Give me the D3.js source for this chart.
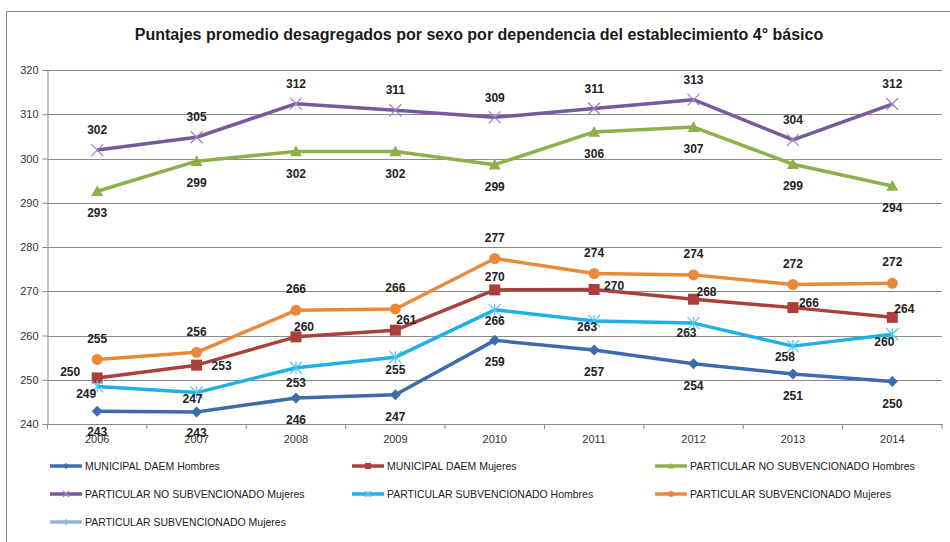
<!DOCTYPE html>
<html>
<head>
<meta charset="utf-8">
<script src="https://cdn.jsdelivr.net/npm/d3@7"></script>
<style>
  body { margin: 0; background: #fff; }
  svg { display: block; }
</style>
</head>
<body>
<script>
var years = ["2006", "2007", "2008", "2009", "2010", "2011", "2012", "2013", "2014"];
var y_ticks = [240, 250, 260, 270, 280, 290, 300, 310, 320];

var mun_hombres = [242.9, 242.7, 245.9, 246.6, 258.9, 256.7, 253.6, 251.3, 249.6];
var mun_mujeres = [250.4, 253.3, 259.7, 261.2, 270.3, 270.4, 268.2, 266.3, 264.1];
var pns_hombres = [292.6, 299.4, 301.6, 301.6, 298.6, 306.0, 307.1, 298.7, 293.8];
var pns_mujeres = [301.9, 304.8, 312.4, 310.9, 309.3, 311.3, 313.3, 304.2, 312.3];
var ps_hombres  = [248.5, 247.1, 252.7, 255.1, 265.8, 263.3, 262.8, 257.6, 260.3];
var ps_mujeres  = [254.6, 256.2, 265.7, 266.0, 277.4, 274.0, 273.7, 271.5, 271.8];

var series_names = [
  "MUNICIPAL DAEM Hombres", "MUNICIPAL DAEM Mujeres", "PARTICULAR NO SUBVENCIONADO Hombres",
  "PARTICULAR NO SUBVENCIONADO Mujeres", "PARTICULAR SUBVENCIONADO Hombres", "PARTICULAR SUBVENCIONADO Mujeres",
  "PARTICULAR SUBVENCIONADO Mujeres"
];
var series_values = [mun_hombres, mun_mujeres, pns_hombres, pns_mujeres, ps_hombres, ps_mujeres, []];

// styles, one per series
var colors  = ["#3d6cae", "#ab3f3c", "#8db04a", "#775a9c", "#1fb0e6", "#ea8a38", "#97b3d8"];
var markers = ["diamond", "square", "triangle", "times", "asterisk", "circle", "plus"];

// data label offsets (dx, dy) from each point
var label_off = [
  [[0,21],[0,21],[0,22],[0,22],[0,21],[0,22],[0,22],[0,22],[0,22]],
  [[-27,-6],[25,1],[8,-10],[11,-10],[0,-13],[20,-4],[13,-7],[16,-5],[12,-9]],
  [[0,22],[0,22],[0,22],[0,22],[0,22],[0,22],[0,22],[0,22],[0,22]],
  [[0,-20],[0,-20],[0,-20],[0,-20],[0,-20],[0,-20],[0,-20],[0,-20],[0,-20]],
  [[-11,7],[-4,6],[0,15],[0,13],[0,11],[-7,6],[-7,10],[-8,11],[-8,8]],
  [[0,-21],[0,-21],[0,-21],[0,-21],[0,-21],[0,-21],[0,-21],[0,-21],[0,-21]]
];

var width = 950, height = 542;
var plot = {left: 47.5, right: 942, top: 70, bottom: 424};

var svg = d3.select("body").append("svg")
    .attr("width", width)
    .attr("height", height);

// chart frame
svg.append("rect")
    .attr("x", 6.5).attr("y", 11.5)
    .attr("width", 960).attr("height", 560)
    .attr("fill", "#fff")
    .attr("stroke", "#8c8c8c");

svg.append("text")
    .attr("x", 479).attr("y", 40)
    .attr("text-anchor", "middle")
    .style("font-family", "'Liberation Sans Narrow', 'Liberation Sans', sans-serif")
    .style("font-weight", "bold")
    .style("font-size", "16px")
    .style("fill", "#1a1a1a")
    .text("Puntajes promedio desagregados por sexo por dependencia del establecimiento 4° básico");

var x_scale = d3.scaleBand().domain(years).range([plot.left, plot.right]);
var y_scale = d3.scaleLinear().domain([240, 320]).range([plot.bottom, plot.top]);
var cx = function(i) { return x_scale(years[i]) + x_scale.bandwidth() / 2; };

// gridlines
svg.append("g").selectAll("line")
    .data(y_ticks)
  .enter().append("line")
    .attr("x1", plot.left).attr("x2", plot.right)
    .attr("y1", function(d) { return Math.round(y_scale(d)) + 0.5; })
    .attr("y2", function(d) { return Math.round(y_scale(d)) + 0.5; })
    .attr("stroke", "#8a8a8a");

// y-axis
var y_axis = svg.append("g")
    .attr("transform", "translate(" + plot.left + ",0)")
    .call(d3.axisLeft(y_scale).tickValues(y_ticks).tickSize(5).tickPadding(4));
y_axis.select(".domain").attr("stroke", "#8a8a8a");
y_axis.selectAll(".tick line").attr("stroke", "#8a8a8a");
y_axis.selectAll(".tick text")
    .style("font-family", "'Liberation Sans', sans-serif")
    .style("font-size", "11px")
    .style("fill", "#333");

// x-axis
var x_axis = svg.append("g")
    .attr("transform", "translate(0," + plot.bottom + ")")
    .call(d3.axisBottom(x_scale).tickSize(0).tickPadding(11));
x_axis.select(".domain").attr("stroke", "#8a8a8a");
x_axis.selectAll(".tick text")
    .style("font-family", "'Liberation Sans', sans-serif")
    .style("font-size", "11px")
    .style("fill", "#333");
x_axis.selectAll(".bound")
    .data(years.concat(["end"]))
  .enter().append("line")
    .attr("x1", function(d) { return d === "end" ? plot.right : x_scale(d); })
    .attr("x2", function(d) { return d === "end" ? plot.right : x_scale(d); })
    .attr("y1", 0).attr("y2", 5)
    .attr("stroke", "#8a8a8a");

function draw_marker(g, type, color, s) {
  var h = s / 2;
  if (type === "diamond") {
    g.append("path").attr("d", "M0," + (-h) + "L" + h + ",0L0," + h + "L" + (-h) + ",0Z").attr("fill", color);
  } else if (type === "square") {
    g.append("rect").attr("x", -h).attr("y", -h).attr("width", s).attr("height", s).attr("fill", color);
  } else if (type === "triangle") {
    g.append("path").attr("d", "M0," + (-h) + "L" + h + "," + (h * 0.8) + "L" + (-h) + "," + (h * 0.8) + "Z").attr("fill", color);
  } else if (type === "circle") {
    g.append("circle").attr("r", h).attr("fill", color);
  } else if (type === "times") {
    g.append("path").attr("d", "M" + (-h) + "," + (-h) + "L" + h + "," + h + "M" + h + "," + (-h) + "L" + (-h) + "," + h)
      .attr("stroke", "#9c86c2").attr("stroke-width", 1.3).attr("fill", "none");
  } else if (type === "asterisk") {
    g.append("path").attr("d", "M" + (-h) + "," + (-h) + "L" + h + "," + h + "M" + h + "," + (-h) + "L" + (-h) + "," + h + "M0," + (-h) + "L0," + h)
      .attr("stroke", "#5cc6ec").attr("stroke-width", 1.3).attr("fill", "none");
  } else if (type === "plus") {
    g.append("path").attr("d", "M" + (-h) + ",0L" + h + ",0M0," + (-h) + "L0," + h)
      .attr("stroke", color).attr("stroke-width", 1.3).attr("fill", "none");
  }
}

var marker_size = [11, 11, 12, 12, 12, 11, 10];

var line = d3.line()
    .x(function(d, i) { return cx(i); })
    .y(function(d) { return y_scale(d); });

series_values.forEach(function(vals, s) {
  if (!vals.length) return;
  svg.append("path")
      .datum(vals)
      .attr("d", line)
      .attr("fill", "none")
      .attr("stroke", colors[s])
      .attr("stroke-width", 3.5)
      .attr("stroke-linejoin", "round");
  vals.forEach(function(v, i) {
    var g = svg.append("g").attr("transform", "translate(" + cx(i) + "," + y_scale(v) + ")");
    draw_marker(g, markers[s], colors[s], marker_size[s]);
  });
});

// data labels
series_values.forEach(function(vals, s) {
  svg.append("g").selectAll("text")
      .data(vals)
    .enter().append("text")
      .attr("x", function(d, i) { return cx(i) + label_off[s][i][0]; })
      .attr("y", function(d, i) { return y_scale(d) + label_off[s][i][1]; })
      .attr("dy", "0.35em")
      .attr("text-anchor", "middle")
      .style("font-family", "'Liberation Sans', sans-serif")
      .style("font-weight", "bold")
      .style("font-size", "12px")
      .style("fill", "#222")
      .text(function(d) { return Math.round(d); });
});

// legend
var leg_cols = [50, 352, 655], leg_rows = [466, 494, 522];
var legend = svg.append("g").selectAll("g")
    .data(series_names)
  .enter().append("g")
    .attr("transform", function(d, i) {
      return "translate(" + leg_cols[i % 3] + "," + leg_rows[Math.floor(i / 3)] + ")";
    });
legend.append("line")
    .attr("x1", 0).attr("x2", 32)
    .attr("stroke", function(d, i) { return colors[i]; })
    .attr("stroke-width", 3.5);
legend.each(function(d, i) {
  var g = d3.select(this).append("g").attr("transform", "translate(16,0)");
  draw_marker(g, markers[i], colors[i], 6);
});
legend.append("text")
    .attr("x", 35)
    .attr("dy", "0.35em")
    .style("font-family", "'Liberation Sans Narrow', 'Liberation Sans', sans-serif")
    .style("font-size", "10.5px")
    .style("fill", "#222")
    .text(function(d) { return d; });
</script>
</body>
</html>
